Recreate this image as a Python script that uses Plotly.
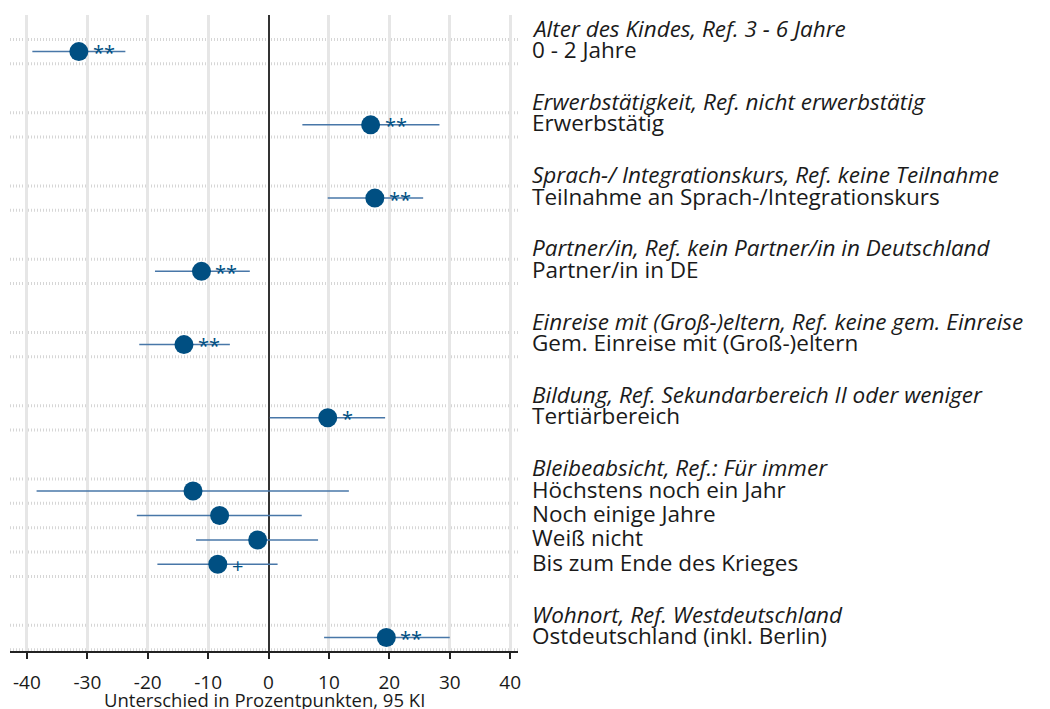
import plotly.graph_objects as go

# Group headings (reference categories) and the number of contrasts in each group
group_titles = [
    "Alter des Kindes, Ref. 3 - 6 Jahre",
    "Erwerbstätigkeit, Ref. nicht erwerbstätig",
    "Sprach-/ Integrationskurs, Ref. keine Teilnahme",
    "Partner/in, Ref. kein Partner/in in Deutschland",
    "Einreise mit (Groß-)eltern, Ref. keine gem. Einreise",
    "Bildung, Ref. Sekundarbereich II oder weniger",
    "Bleibeabsicht, Ref.: Für immer",
    "Wohnort, Ref. Westdeutschland",
]
group_sizes = [1, 1, 1, 1, 1, 1, 4, 1]

categories = [
    "0 - 2 Jahre",
    "Erwerbstätig",
    "Teilnahme an Sprach-/Integrationskurs",
    "Partner/in in DE",
    "Gem. Einreise mit (Groß-)eltern",
    "Tertiärbereich",
    "Höchstens noch ein Jahr",
    "Noch einige Jahre",
    "Weiß nicht",
    "Bis zum Ende des Krieges",
    "Ostdeutschland (inkl. Berlin)",
]
estimate = [-31.4, 16.9, 17.6, -11.1, -14.0, 9.8, -12.5, -8.1, -1.8, -8.4, 19.5]
ci_low = [-39.1, 5.6, 9.8, -18.8, -21.4, 0.2, -38.4, -21.8, -12.0, -18.4, 9.2]
ci_high = [-23.7, 28.3, 25.6, -3.1, -6.4, 19.3, 13.3, 5.5, 8.2, 1.5, 30.0]
significance = ["**", "**", "**", "**", "**", "*", "", "", "", "+", "**"]

x_ticks = [-40, -30, -20, -10, 0, 10, 20, 30, 40]
x_title = "Unterschied in Prozentpunkten, 95 KI"

FONT = "Open Sans"
DOT_BLUE = "#004f82"
CI_BLUE = "#4877a8"
TEXT = "#1a1a1a"
LABEL_SIZE = 22.5

# Row layout: heading row, contrast rows, then a spacer row per group
header_pos, cat_pos = [], []
pos = 0
for size in group_sizes:
    header_pos.append(pos)
    pos += 1
    for _ in range(size):
        cat_pos.append(pos)
        pos += 1
    pos += 1

fig = go.Figure()

fig.add_trace(go.Scatter(
    x=estimate,
    y=cat_pos,
    mode="markers",
    marker=dict(size=19, color=DOT_BLUE, line=dict(width=0)),
    error_x=dict(
        type="data",
        symmetric=False,
        array=[h - e for h, e in zip(ci_high, estimate)],
        arrayminus=[e - l for e, l in zip(estimate, ci_low)],
        width=0,
        thickness=1.5,
        color=CI_BLUE,
    ),
    showlegend=False,
    hoverinfo="skip",
))

# Dotted separators above and below each contrast row
sep_rows = set()
for p in cat_pos:
    sep_rows.add(p - 0.5)
    sep_rows.add(p + 0.5)
for y in sorted(sep_rows):
    fig.add_shape(
        type="line", xref="paper", x0=0, x1=1, y0=y, y1=y,
        line=dict(color="#d6d6d6", width=3, dash="1px,2px"),
        layer="below",
    )

annotations = []
# Significance markers next to the points
for x, y, s in zip(estimate, cat_pos, significance):
    if s:
        annotations.append(dict(
            x=x, y=y, xref="x", yref="y", text=s, showarrow=False,
            xanchor="left", yanchor="middle", xshift=12, yshift=-1,
            font=dict(family=FONT, size=20, color=DOT_BLUE),
        ))

# Right-hand row labels
for y, t in zip(header_pos, group_titles):
    annotations.append(dict(
        x=1, y=y, xref="paper", yref="y", text=f"<i>{t}</i>", showarrow=False,
        xanchor="left", yanchor="middle", xshift=12, yshift=-1,
        font=dict(family=FONT, size=LABEL_SIZE, color=TEXT),
    ))
for y, t in zip(cat_pos, categories):
    annotations.append(dict(
        x=1, y=y, xref="paper", yref="y", text=t, showarrow=False,
        xanchor="left", yanchor="middle", xshift=12, yshift=2,
        font=dict(family=FONT, size=LABEL_SIZE, color=TEXT),
    ))

# Axis title
annotations.append(dict(
    x=0.5, y=0, xref="paper", yref="paper", text=x_title, showarrow=False,
    xanchor="center", yanchor="middle", yshift=-48,
    font=dict(family=FONT, size=18.5, color=TEXT),
))

fig.update_layout(
    width=1050, height=709,
    margin=dict(l=10, r=532, t=15, b=58),
    paper_bgcolor="white", plot_bgcolor="white",
    font=dict(family=FONT, color=TEXT),
    annotations=annotations,
    xaxis=dict(
        range=[-42.8, 41.3],
        tickvals=x_ticks,
        ticktext=[str(v) for v in x_ticks],
        showgrid=True, gridcolor="#e6e6e6", gridwidth=2.5,
        zeroline=True, zerolinecolor="#333333", zerolinewidth=2,
        showline=True, linecolor="#222222", linewidth=2,
        ticks="outside", ticklen=6, tickwidth=1.5, tickcolor="#222222",
        ticklabelstandoff=7,
        tickfont=dict(family=FONT, size=19, color=TEXT),
    ),
    yaxis=dict(
        range=[25.55, -0.5],
        showgrid=False, zeroline=False, showticklabels=False, showline=False,
    ),
)

fig.write_html("out.html")
